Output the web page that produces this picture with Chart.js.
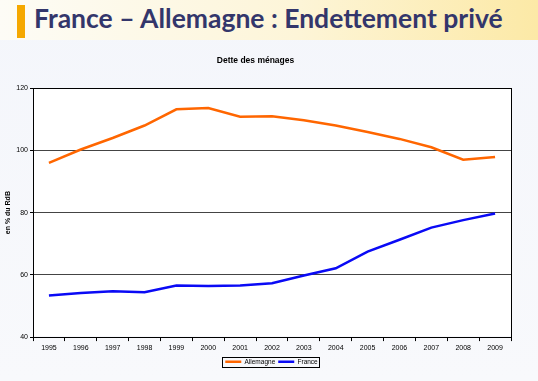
<!DOCTYPE html>
<html>
<head>
<meta charset="utf-8">
<script src="https://cdn.jsdelivr.net/npm/chart.js@4/dist/chart.umd.min.js"></script>
<style>
html,body{margin:0;padding:0;width:538px;height:381px;overflow:hidden;}
body{background:linear-gradient(180deg,#f4f6fb 0%,#f8f9fc 100%);position:relative;font-family:"Liberation Sans",Arial,sans-serif;}
#banner{position:absolute;left:0;top:0;width:538px;height:40px;background:linear-gradient(90deg,#fdfcf6 0%,#fdf5d8 55%,#fce9a6 100%);}
#bar{position:absolute;left:17px;top:5px;width:8px;height:33px;background:#f5a800;}
#title{position:absolute;left:34px;top:2px;font-family:Lato,"Open Sans",sans-serif;font-weight:bold;font-size:26.5px;color:#33366b;white-space:nowrap;letter-spacing:0px;}
#plotbg{position:absolute;left:33px;top:89px;width:478px;height:247px;background:#ffffff;}
#wrap{position:absolute;left:0;top:0;width:538px;height:381px;}
</style>
</head>
<body>
<div id="banner"></div>
<div id="bar"></div>
<div id="title">France – Allemagne : Endettement privé</div>
<div id="plotbg"></div>
<div id="wrap"><canvas id="c" width="538" height="381"></canvas></div>
<script>
const years = ["1995","1996","1997","1998","1999","2000","2001","2002","2003","2004","2005","2006","2007","2008","2009"];
const allemagne = [96.0,100.3,104.0,108.0,113.2,113.6,110.8,111.0,109.7,108.0,105.9,103.7,101.0,97.0,97.9];
const france = [53.4,54.2,54.7,54.4,56.6,56.4,56.6,57.3,59.8,62.1,67.5,71.3,75.2,77.6,79.7];
const yTicks = [40,60,80,100,120];
const LEGEND_SHIFT = 16;

const frame = {
  id:'frame',
  afterInit(chart){
    const lg = chart.legend;
    if (lg && !lg._shifted){
      const orig = lg.draw.bind(lg);
      lg.draw = function(){
        const ctx = chart.ctx;
        ctx.save(); ctx.translate(LEGEND_SHIFT,0); orig(); ctx.restore();
        if (lg.legendHitBoxes && lg.legendHitBoxes.length){
          let x0=Infinity,x1=-Infinity,y0=Infinity,y1=-Infinity;
          lg.legendHitBoxes.forEach(b=>{x0=Math.min(x0,b.left);x1=Math.max(x1,b.left+b.width);y0=Math.min(y0,b.top);y1=Math.max(y1,b.top+b.height);});
          ctx.save(); ctx.strokeStyle='#000'; ctx.lineWidth=1;
          ctx.strokeRect(Math.round(x0+LEGEND_SHIFT)-2.5, Math.round(y0)-1.5, Math.round(x1-x0)+5, Math.round(y1-y0)+3);
          ctx.restore();
        }
      };
      lg._shifted = true;
    }
  },
  afterDraw(chart){
    const {ctx, chartArea:a} = chart;
    ctx.save();
    ctx.strokeStyle='#000'; ctx.lineWidth=1;
    ctx.strokeRect(Math.round(a.left)+0.5, Math.round(a.top)+0.5, Math.round(a.right-a.left), Math.round(a.bottom-a.top));
    ctx.restore();
  }
};

const chart = new Chart(document.getElementById('c'), {
  type:'line',
  data:{
    labels:years,
    datasets:[
      {label:'Allemagne', data:allemagne, borderColor:'#ff6600', backgroundColor:'#ff6600', borderWidth:2.5, pointRadius:0, tension:0},
      {label:'France', data:france, borderColor:'#0a0af5', backgroundColor:'#0a0af5', borderWidth:2.5, pointRadius:0, tension:0}
    ]
  },
  options:{
    responsive:false, animation:false, devicePixelRatio:1,
    layout:{padding:{left:0,right:27,top:0,bottom:6}},
    plugins:{
      title:{display:true,text:'Dette des ménages',color:'#000',font:{family:'"Liberation Sans", Arial',size:8.5,weight:'bold'},padding:{top:56,bottom:22}},
      legend:{position:'bottom',labels:{usePointStyle:true,pointStyle:'line',pointStyleWidth:16,boxHeight:7,padding:3,color:'#000',font:{family:'"Liberation Sans", Arial',size:6.5}}},
      tooltip:{enabled:false}
    },
    scales:{
      x:{
        offset:true,
        grid:{display:true,drawOnChartArea:false,drawTicks:true,tickLength:4,offset:true,color:'#000'},
        border:{display:true,color:'#000',width:1},
        ticks:{color:'#000',font:{family:'"Liberation Sans", Arial',size:7},maxRotation:0,autoSkip:false,padding:3}
      },
      y:{
        min:40,max:120,
        afterBuildTicks(s){ s.ticks = yTicks.map(v=>({value:v})); },
        afterFit(s){ s.width = 33; },
        grid:{color:(c)=> (c.tick && (c.tick.value===40||c.tick.value===120)) ? '#000' : '#444', lineWidth:1, tickLength:3, tickColor:'#000'},
        border:{display:true,color:'#000',width:1},
        ticks:{color:'#000',font:{family:'"Liberation Sans", Arial',size:7},padding:2},
        title:{display:true,text:'en % du RdB',color:'#000',font:{family:'"Liberation Sans", Arial',size:7,weight:'bold'},padding:{top:4,bottom:0}}
      }
    }
  },
  plugins:[frame]
});
chart.update();
</script>
</body>
</html>
